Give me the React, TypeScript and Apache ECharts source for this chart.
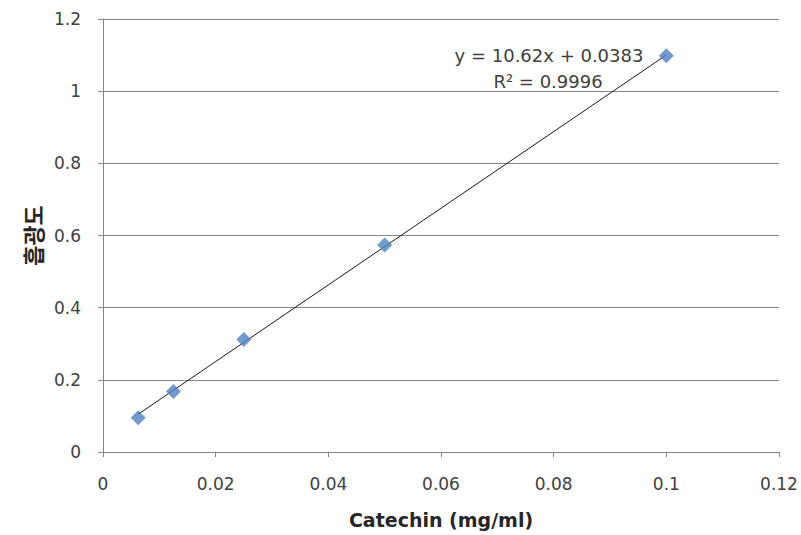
import React, { useEffect, useRef } from "react";
import * as echarts from "echarts";

const concentrations = [0.00625, 0.0125, 0.025, 0.05, 0.1];
const absorbance = [0.095, 0.168, 0.312, 0.574, 1.098];
const slope = 10.62;
const intercept = 0.0383;
const equationText = "y = 10.62x + 0.0383";
const r2Text = "R² = 0.9996";
const xAxisTitle = "Catechin (mg/ml)";
const yAxisTitle = "흡광도";

export default function App() {
  const ref = useRef<HTMLDivElement>(null);
  useEffect(() => {
    if (!ref.current) return;
    const chart = echarts.init(ref.current, null, { renderer: "svg" });
    const xs = [concentrations[0], concentrations[concentrations.length - 1]];
    const trend = xs.map((x) => [x, slope * x + intercept]);
    const font = "'DejaVu Sans', sans-serif";
    chart.setOption({
      animation: false,
      backgroundColor: "#ffffff",
      grid: { left: 103, right: 22, top: 19, bottom: 83, containLabel: false },
      xAxis: {
        type: "value",
        min: 0,
        max: 0.12,
        interval: 0.02,
        name: xAxisTitle,
        nameLocation: "middle",
        nameGap: 58,
        nameTextStyle: { fontSize: 19, fontWeight: "bold", color: "#262626", fontFamily: font },
        axisLine: { show: true, lineStyle: { color: "#868686", width: 1 } },
        axisTick: { show: true, length: 5, lineStyle: { color: "#868686" } },
        axisLabel: { fontSize: 17, color: "#404040", fontFamily: font, margin: 23 },
        splitLine: { show: false },
      },
      yAxis: {
        type: "value",
        min: 0,
        max: 1.2,
        interval: 0.2,
        name: yAxisTitle,
        nameLocation: "middle",
        nameGap: 59,
        nameRotate: 90,
        nameTextStyle: { fontSize: 22, fontWeight: "bold", color: "#262626", fontFamily: "'Noto Sans CJK KR', sans-serif" },
        axisLine: { show: true, lineStyle: { color: "#868686", width: 1 } },
        axisTick: { show: true, length: 5, lineStyle: { color: "#868686" } },
        axisLabel: { fontSize: 17, color: "#404040", fontFamily: font, margin: 22 },
        splitLine: { show: true, lineStyle: { color: "#868686", width: 1 } },
      },
      series: [
        {
          type: "line",
          data: trend,
          symbol: "none",
          lineStyle: { color: "#1a1a1a", width: 1 },
          silent: true,
          z: 2,
        },
        {
          type: "scatter",
          data: concentrations.map((x, i) => [x, absorbance[i]]),
          symbol: "diamond",
          symbolSize: 15,
          itemStyle: { color: "#4F81BD" },
          z: 3,
        },
      ],
      graphic: [
        {
          type: "text",
          x: 549,
          y: 55,
          style: {
            text: equationText,
            fontSize: 18,
            fill: "#404040",
            fontFamily: font,
            align: "center",
            verticalAlign: "middle",
          },
        },
        {
          type: "text",
          x: 548,
          y: 81,
          style: {
            text: r2Text,
            fontSize: 18,
            fill: "#404040",
            fontFamily: font,
            align: "center",
            verticalAlign: "middle",
          },
        },
      ],
    });
    return () => chart.dispose();
  }, []);
  return <div ref={ref} style={{ width: 801, height: 535, position: "absolute", left: 0, top: 0 }} />;
}
